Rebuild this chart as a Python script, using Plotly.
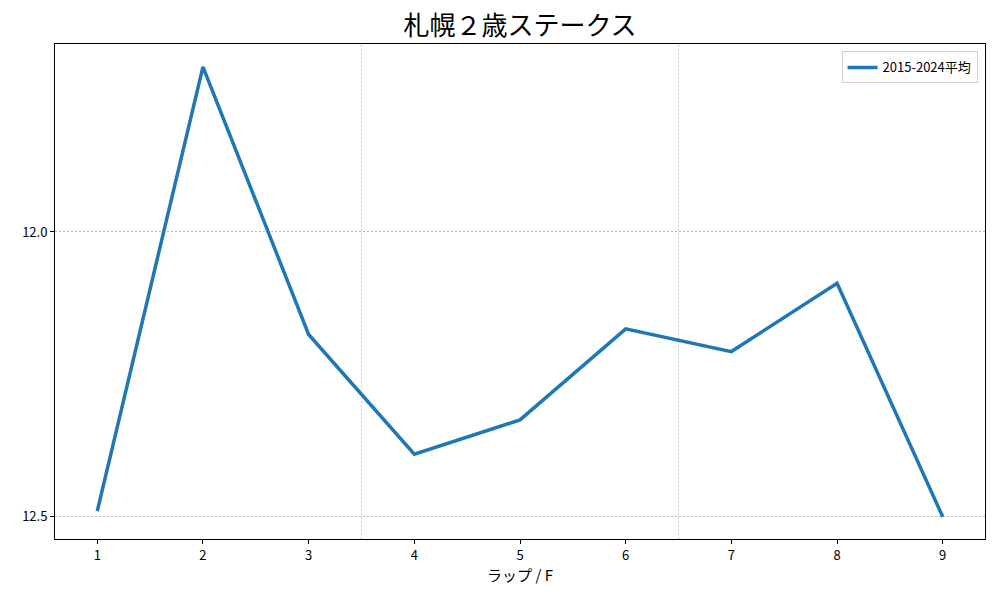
import plotly.graph_objects as go

laps = [1, 2, 3, 4, 5, 6, 7, 8, 9]
avg_times = [12.49, 11.71, 12.18, 12.39, 12.33, 12.17, 12.21, 12.09, 12.50]
y_ticks = [12.0, 12.5]
x_grid = [3.5, 6.5]

FONT = "Noto Sans CJK JP, DejaVu Sans, sans-serif"

fig = go.Figure()
fig.add_trace(go.Scatter(x=laps, y=avg_times, mode="lines", name="2015-2024平均",
                         line=dict(color="#1f77b4", width=3.5)))

for xv in x_grid:
    fig.add_shape(type="line", xref="x", yref="paper", x0=xv, x1=xv, y0=0, y1=1,
                  line=dict(color="#b8b8b8", width=0.7, dash="2px,2px"), layer="below")

fig.update_layout(
    width=1000, height=600,
    paper_bgcolor="white", plot_bgcolor="white",
    margin=dict(l=55, r=15, t=44, b=61),
    font=dict(family=FONT, size=13, color="black"),
    title=dict(text="札幌２歳ステークス", x=0.52, xanchor="center", y=0.957, yanchor="middle",
               font=dict(size=26, family=FONT, color="black")),
    showlegend=True,
    legend=dict(x=0.992, y=0.985, xanchor="right", yanchor="top",
                bordercolor="#d0d0d0", borderwidth=1, bgcolor="white",
                font=dict(size=13)),
    xaxis=dict(range=[0.6, 9.4], tickvals=laps, showgrid=False, zeroline=False,
               showline=True, linecolor="black", linewidth=1, mirror=True,
               ticks="outside", ticklen=4, tickcolor="black", automargin=False,
               tickfont=dict(size=13),
               title=dict(text="ラップ / F", font=dict(size=15), standoff=6)),
    yaxis=dict(range=[12.539, 11.670], tickvals=y_ticks, ticktext=["12.0", "12.5"],
               showgrid=True, gridcolor="#b8b8b8", gridwidth=0.7, griddash="2px,2px",
               zeroline=False, showline=True, linecolor="black", linewidth=1, mirror=True,
               ticks="outside", ticklen=4, tickcolor="black", automargin=False,
               tickfont=dict(size=13)),
)

fig.write_html("out.html", post_script="document.body.style.margin='0';",
               config={"displayModeBar": False})
